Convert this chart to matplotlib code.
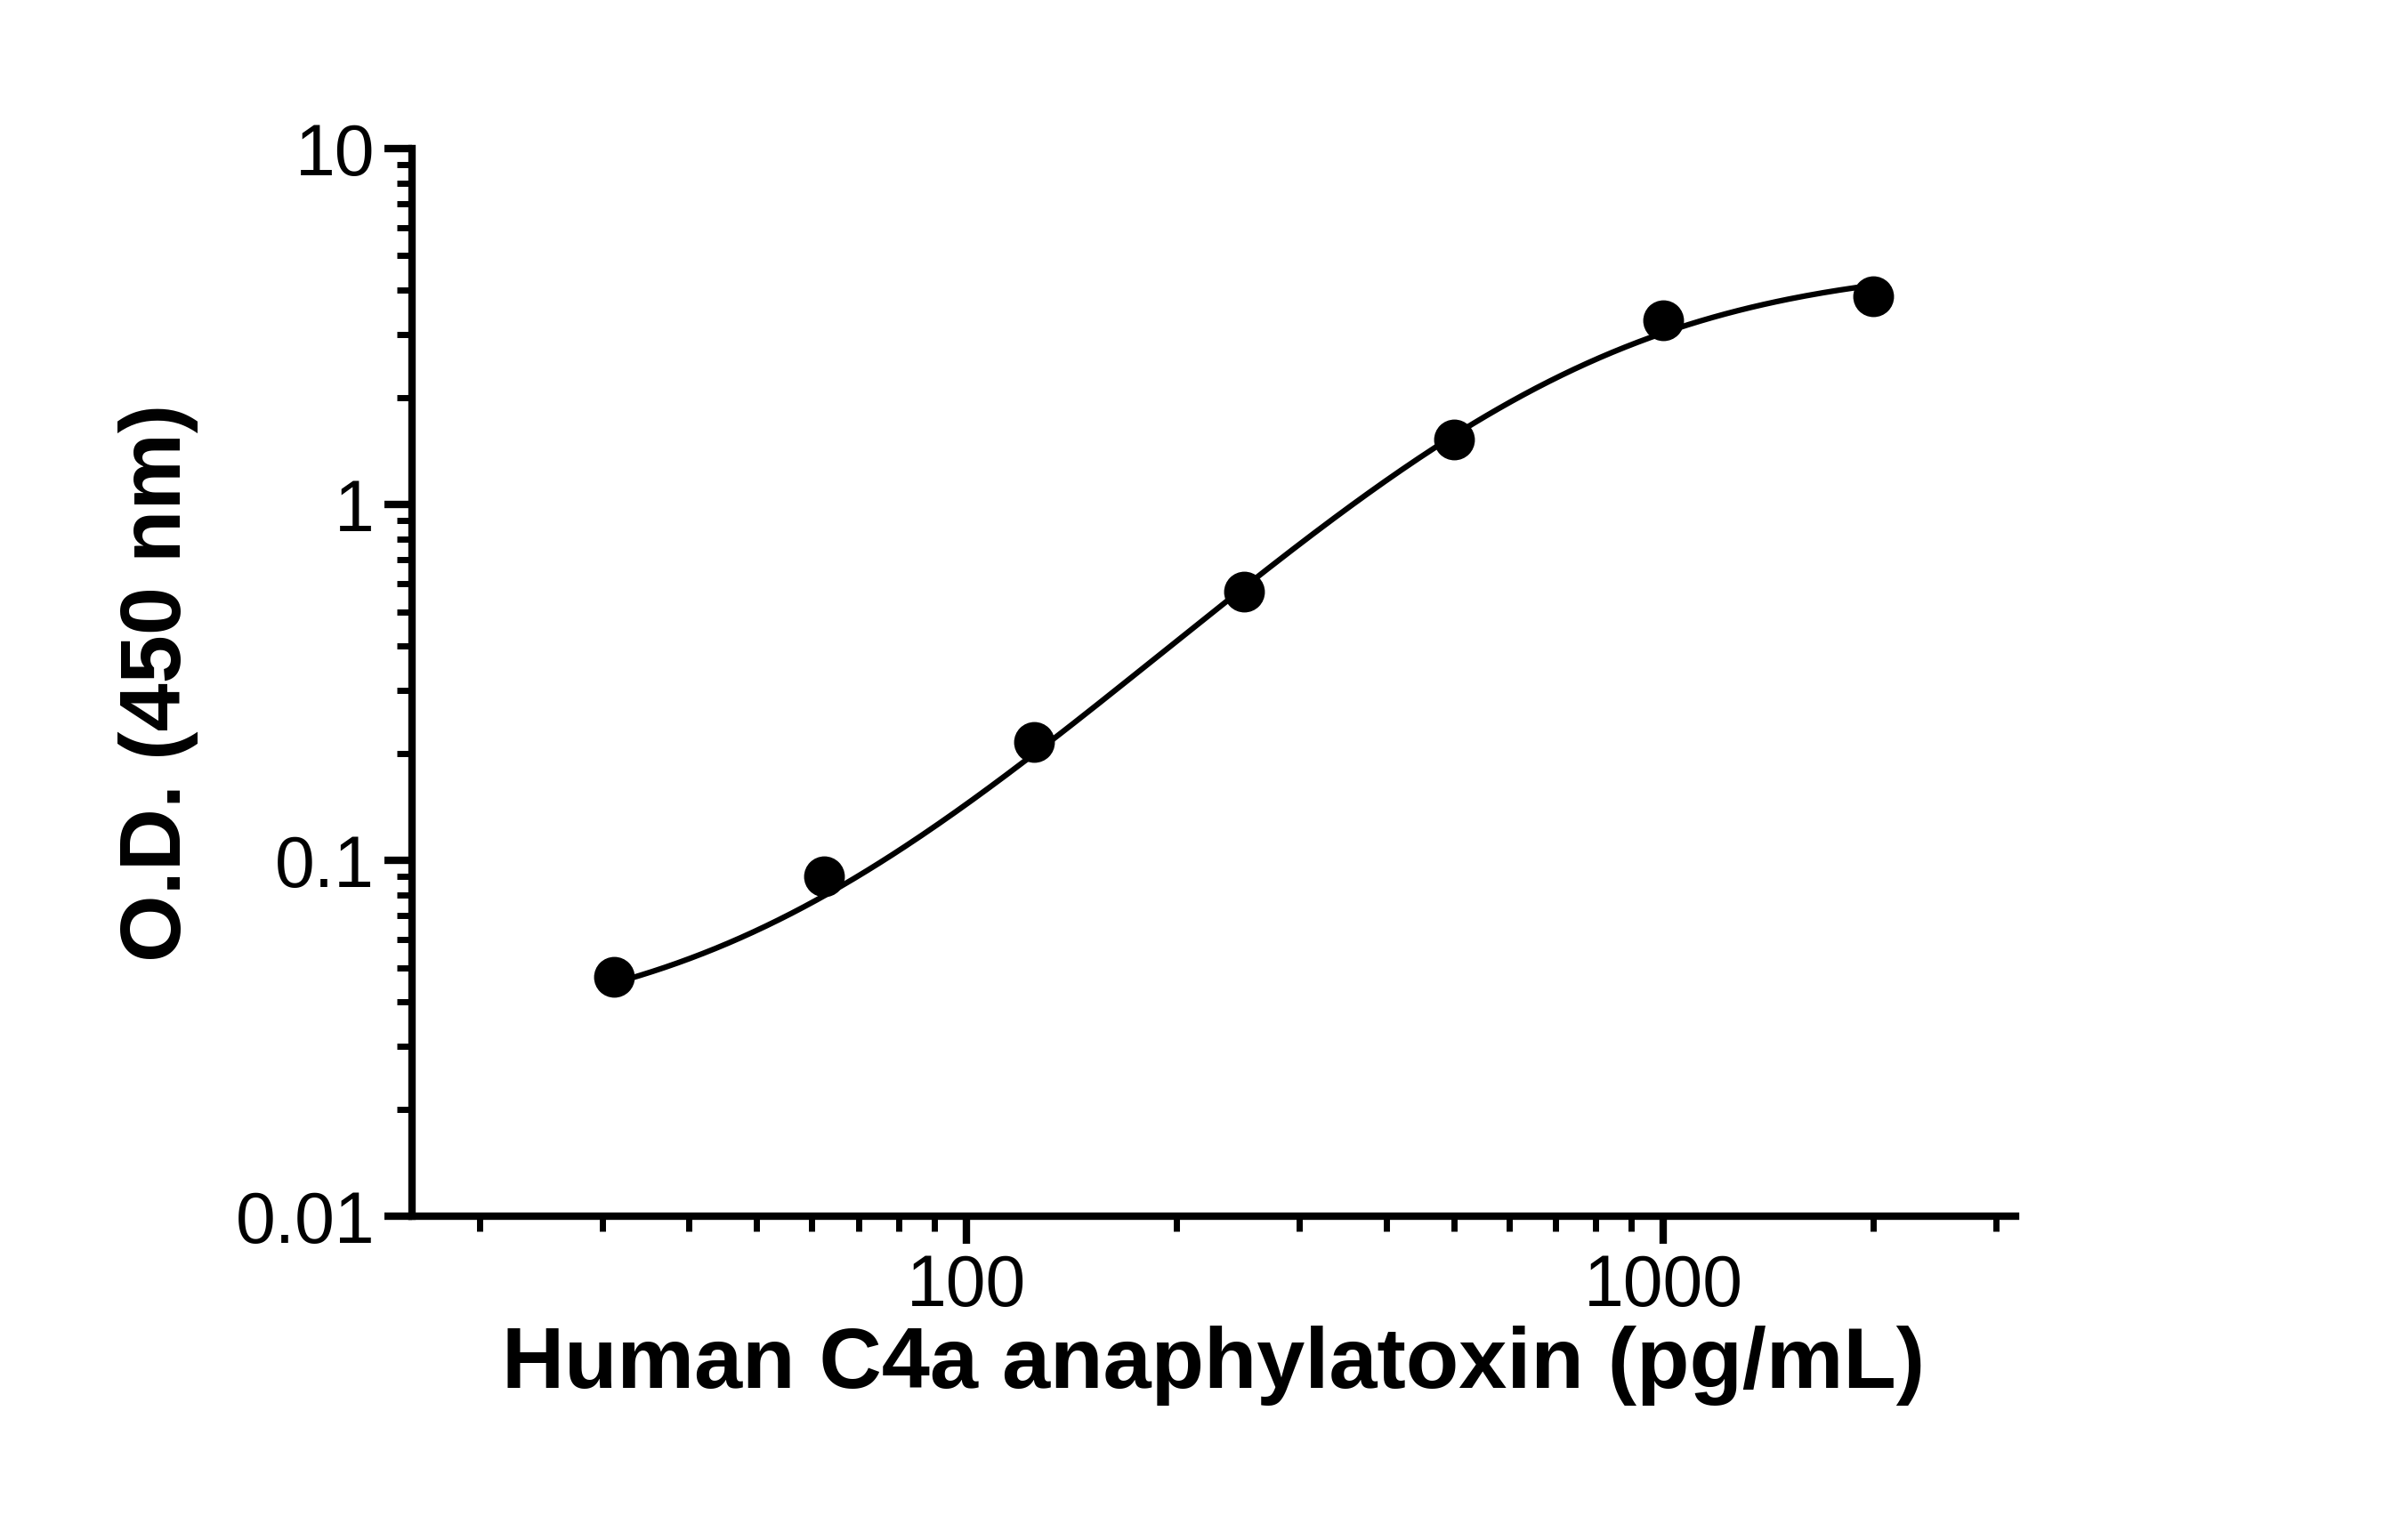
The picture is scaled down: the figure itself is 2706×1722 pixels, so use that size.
import matplotlib.pyplot as plt
import numpy as np
from matplotlib.ticker import LogLocator, FixedLocator, NullFormatter

plt.rcParams['font.family'] = ['Liberation Sans', 'DejaVu Sans']

conc = [31.25, 62.5, 125, 250, 500, 1000, 2000]
od = [0.047, 0.090, 0.215, 0.57, 1.52, 3.3, 3.85]
# 4PL fit parameters: bottom, top, ec50, hill
fit_params = [0.032, 4.8, 750, 1.85]


def four_pl(x, bottom, top, ec50, hill):
    return bottom + (top - bottom) / (1 + (ec50 / x) ** hill)


fig = plt.figure(figsize=(27.06, 17.22), dpi=100)
ax = fig.add_axes([0.171, 0.206, 0.666, 0.697])

xs = np.logspace(np.log10(conc[0]), np.log10(conc[-1]), 300)
ax.plot(xs, four_pl(xs, *fit_params), color='black', lw=4.5)
ax.plot(conc, od, 'o', color='black', ms=32)

ax.set_xscale('log')
ax.set_yscale('log')
ax.set_xlim(16, 3200)
ax.set_ylim(0.01, 10)

ax.xaxis.set_major_locator(FixedLocator([100, 1000]))
ax.xaxis.set_minor_locator(FixedLocator([20, 30, 40, 50, 60, 70, 80, 90,
                                         200, 300, 400, 500, 600, 700, 800, 900,
                                         2000, 3000]))
ax.xaxis.set_minor_formatter(NullFormatter())
ax.set_xticklabels(['100', '1000'])
ax.yaxis.set_major_locator(FixedLocator([0.01, 0.1, 1, 10]))
ax.yaxis.set_minor_locator(LogLocator(base=10, subs=np.arange(2, 10)))
ax.yaxis.set_minor_formatter(NullFormatter())
ax.set_yticklabels(['0.01', '0.1', '1', '10'])

for s in ['top', 'right']:
    ax.spines[s].set_visible(False)
for s in ['left', 'bottom']:
    ax.spines[s].set_linewidth(6)

ax.tick_params(which='major', length=22, width=6, labelsize=58, pad=8)
ax.tick_params(which='minor', length=12, width=5)

ax.set_xlabel('Human C4a anaphylatoxin (pg/mL)', fontsize=70, fontweight='bold', labelpad=4)
ax.set_ylabel('O.D. (450 nm)', fontsize=70, fontweight='bold', labelpad=30)

fig.savefig('out.png', dpi=100)
